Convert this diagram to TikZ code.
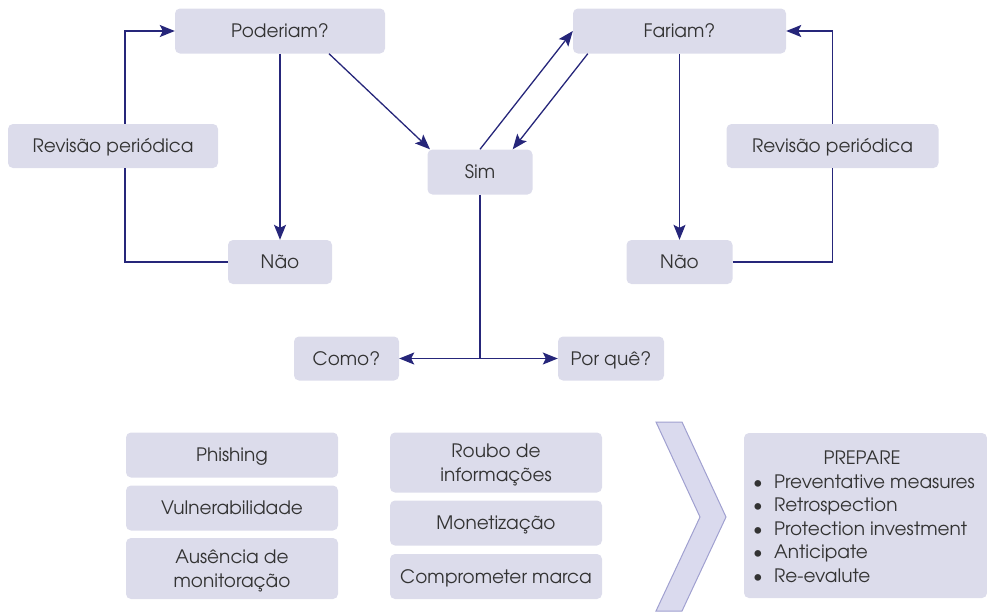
\documentclass[tikz,border=0pt]{standalone}
\usepackage{fontspec}
\setmainfont{TeX Gyre Adventor}
\usetikzlibrary{arrows.meta}

\definecolor{boxfill}{HTML}{DCDCEB}
\definecolor{linecol}{HTML}{26267A}
\definecolor{txtcol}{HTML}{333333}
\definecolor{chevfill}{HTML}{DADAEE}
\definecolor{chevline}{HTML}{A0A0D0}

\tikzset{
  box/.style={fill=boxfill, rounded corners=5pt, text=txtcol, align=center,
              inner sep=0pt, font=\fontsize{18.5}{24}\selectfont,
              text height=13.5pt, text depth=0pt},
  twoline/.style={text height=37.5pt},
  link/.style={draw=linecol, line width=1.3pt},
  arr/.style={link, -{Stealth[length=15pt, width=12pt, inset=3pt]}},
  chev/.style={fill=chevfill, draw=chevline, line width=1pt, line join=miter}
}

\begin{document}
\begin{tikzpicture}[x=1pt, y=-1pt]
  \useasboundingbox (0,0) rectangle (987,611);

  % decision flow
  \node[box, minimum width=210pt, minimum height=45pt] (pod)  at (280,31)    {Poderiam?};
  \node[box, minimum width=213pt, minimum height=45pt] (far)  at (679.5,31)  {Fariam?};
  \node[box, minimum width=210pt, minimum height=44pt] (revL) at (113,146)   {Revisão periódica};
  \node[box, minimum width=212pt, minimum height=44pt] (revR) at (832.5,146) {Revisão periódica};
  \node[box, minimum width=104pt, minimum height=44pt] (naoL) at (280,262)   {Não};
  \node[box, minimum width=106pt, minimum height=44pt] (naoR) at (679.5,262) {Não};
  \node[box, minimum width=105pt, minimum height=45pt] (sim)  at (480,172)   {Sim};
  \node[box, minimum width=105pt, minimum height=44pt] (como) at (346.5,358.5) {Como?};
  \node[box, minimum width=106pt, minimum height=44pt] (pq)   at (611,358.5) {Por quê?};

  \draw[arr] (pod.south) -- (naoL.north);
  \draw[arr] ([xshift=49pt]pod.south) -- ([xshift=-50pt]sim.north);
  \draw[arr] (sim.north) -- (far.west);
  \draw[arr] ([xshift=15pt]far.south west) -- ([xshift=-20pt]sim.north east);
  \draw[arr] (far.south) -- (naoR.north);

  \draw[link] (naoL.west) -| ([xshift=12pt]revL.south);
  \draw[arr]  ([xshift=12pt]revL.north) |- (pod.west);
  \draw[link] (naoR.east) -| (revR.south);
  \draw[arr]  (revR.north) |- (far.east);

  \coordinate (split) at (sim.south |- como.east);
  \draw[link] (sim.south) -- (split);
  \draw[arr] (split) -- (como.east);
  \draw[arr] (split) -- (pq.west);

  % threats and consequences
  \node[box, minimum width=212pt, minimum height=45pt] (phish) at (232,455)   {Phishing};
  \node[box, minimum width=212pt, minimum height=45pt] (vuln)  at (232,508)   {Vulnerabilidade};
  \node[box, twoline, minimum width=212pt, minimum height=61pt] (ause)  at (232,568.5) {Ausência de\\monitoração};
  \node[box, twoline, minimum width=212pt, minimum height=60pt] (roubo) at (496,462.5) {Roubo de\\informações};
  \node[box, minimum width=212pt, minimum height=45pt] (monet) at (496,523)   {Monetização};
  \node[box, minimum width=212pt, minimum height=45pt] (compr) at (496,576.5) {Comprometer marca};

  % chevron
  \draw[chev] (656,422) -- (682,422) -- (726,517) -- (682,611) -- (656,611) -- (700,517) -- cycle;

  % preparation list
  \node[box, minimum width=243pt, minimum height=165pt] (prep) at (865.5,515.5) {};
  \node[text=txtcol, inner sep=0pt, anchor=north west, font=\fontsize{18.5}{23.6}\selectfont]
    (preptext) at (749,447.8) {%
    \begin{tabular}{@{}l@{}}
      \multicolumn{1}{c}{PREPARE}\\
      \makebox[25pt][l]{\hspace{4pt}\textbullet}Preventative measures\\
      \makebox[25pt][l]{\hspace{4pt}\textbullet}Retrospection\\
      \makebox[25pt][l]{\hspace{4pt}\textbullet}Protection investment\\
      \makebox[25pt][l]{\hspace{4pt}\textbullet}Anticipate\\
      \makebox[25pt][l]{\hspace{4pt}\textbullet}Re-evalute
    \end{tabular}};
\end{tikzpicture}
\end{document}
